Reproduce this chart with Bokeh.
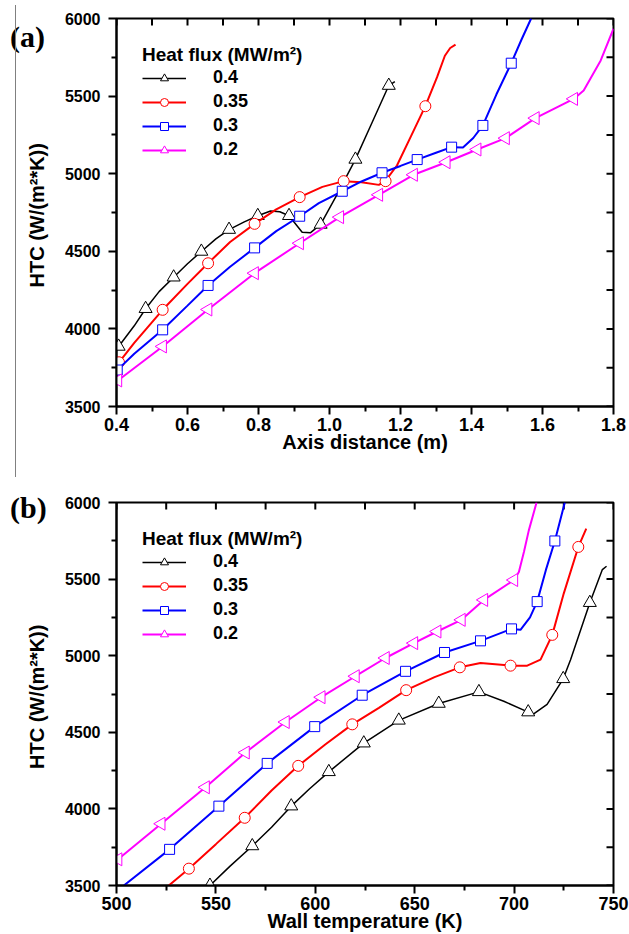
import math
from bokeh.plotting import figure
from bokeh.models import (Range1d, FixedTicker, Legend, LegendItem,
                          NumeralTickFormatter, Div)
from bokeh.layouts import column
from bokeh.embed import file_html
from bokeh.resources import INLINE

series = ["0.4", "0.35", "0.3", "0.2"]
colors = ["#000000", "#ff0000", "#0000ff", "#ff00ff"]
marker_types = ["triangle", "circle", "square", "triangle"]
marker_angles = [0.0, 0.0, 0.0, math.pi / 2]
marker_sizes = [13, 11, 10, 13]
line_widths = [1.5, 2, 2, 2]

y_ticks = [3500, 4000, 4500, 5000, 5500, 6000]
y_minor = [3750, 4250, 4750, 5250, 5750]
legend_title = "Heat flux (MW/m²)"
y_label = "HTC  (W/(m²*K))"

# ---------------- panel (a): HTC vs axis distance ----------------
a_x_ticks = [0.4, 0.6, 0.8, 1.0, 1.2, 1.4, 1.6, 1.8]
a_x_minor = [0.5, 0.7, 0.9, 1.1, 1.3, 1.5, 1.7]
a_x_label = "Axis distance (m)"

a_line_x_04 = [0.40, 0.406, 0.45, 0.482, 0.52, 0.561, 0.60, 0.639, 0.68, 0.717, 0.76, 0.798,
               0.834, 0.86, 0.886, 0.923, 0.946, 0.975, 1.02, 1.073, 1.12, 1.167, 1.184]
a_line_y_04 = [3860, 3887, 4020, 4130, 4240, 4333, 4420, 4499, 4580, 4640, 4690, 4729,
               4760, 4755, 4729, 4623, 4619, 4673, 4860, 5092, 5330, 5568, 5594]
a_mark_x_04 = [0.406, 0.482, 0.561, 0.639, 0.717, 0.798, 0.886, 0.975, 1.073, 1.167]
a_mark_y_04 = [3887, 4130, 4333, 4499, 4640, 4729, 4729, 4673, 5092, 5568]

a_line_x_035 = [0.40, 0.407, 0.45, 0.53, 0.60, 0.658, 0.72, 0.789, 0.85, 0.916, 0.98, 1.040,
                1.09, 1.139, 1.158, 1.19, 1.23, 1.270, 1.303, 1.325, 1.340, 1.355]
a_line_y_035 = [3770, 3785, 3910, 4123, 4290, 4423, 4560, 4677, 4770, 4849, 4915, 4952,
                4945, 4928, 4955, 5053, 5244, 5435, 5622, 5760, 5810, 5832]
a_mark_x_035 = [0.407, 0.530, 0.658, 0.789, 0.916, 1.040, 1.158, 1.270]
a_mark_y_035 = [3785, 4123, 4423, 4677, 4849, 4952, 4952, 5435]

a_line_x_03 = [0.40, 0.45, 0.530, 0.60, 0.658, 0.72, 0.789, 0.85, 0.916, 0.97, 1.036, 1.09,
               1.148, 1.20, 1.247, 1.30, 1.344, 1.376, 1.405, 1.432, 1.47, 1.512, 1.54, 1.568]
a_line_y_03 = [3730, 3840, 3994, 4150, 4280, 4400, 4522, 4630, 4726, 4810, 4887, 4950,
               5006, 5050, 5091, 5135, 5171, 5169, 5230, 5311, 5510, 5712, 5860, 6000]
a_mark_x_03 = [0.402, 0.530, 0.658, 0.789, 0.916, 1.036, 1.148, 1.247, 1.344, 1.432, 1.512]
a_mark_y_03 = [3735, 3994, 4280, 4522, 4726, 4887, 5006, 5091, 5171, 5311, 5712]

a_line_x_02 = [0.404, 0.530, 0.658, 0.789, 0.916, 1.029, 1.139, 1.237, 1.329, 1.416, 1.496,
               1.580, 1.688, 1.716, 1.764, 1.80]
a_line_y_02 = [3668, 3887, 4125, 4359, 4552, 4720, 4864, 4993, 5074, 5156, 5229,
               5358, 5482, 5536, 5730, 5934]
a_mark_x_02 = [0.404, 0.530, 0.658, 0.789, 0.916, 1.029, 1.139, 1.237, 1.329, 1.416, 1.496,
               1.580, 1.688]
a_mark_y_02 = [3668, 3887, 4125, 4359, 4552, 4720, 4864, 4993, 5074, 5156, 5229,
               5358, 5482]

# ---------------- panel (b): HTC vs wall temperature ----------------
b_x_ticks = [500, 550, 600, 650, 700, 750]
b_x_minor = [525, 575, 625, 675, 725]
b_x_label = "Wall temperature (K)"

b_line_x_04 = [547, 557, 568.3, 578, 587.9, 597, 606.8, 624.4, 642.0, 662.1, 682.3, 694.8,
               707.1, 709.5, 716.6, 724.7, 728.4, 738.1, 744.4, 746.5]
b_line_y_04 = [3500, 3625, 3758, 3880, 4018, 4130, 4242, 4429, 4578, 4688, 4764, 4703,
               4632, 4617, 4682, 4849, 4974, 5346, 5562, 5584]
b_mark_x_04 = [547, 568.3, 587.9, 606.8, 624.4, 642.0, 662.1, 682.3, 707.1, 724.7, 738.1]
b_mark_y_04 = [3500, 3758, 4018, 4242, 4429, 4578, 4688, 4764, 4632, 4849, 5346]

b_line_x_035 = [526.3, 536.4, 550, 564.5, 578, 591.4, 605, 618.6, 632, 645.7, 660, 672.7,
                683.1, 698.2, 706.6, 713.3, 719.2, 725, 732.3, 736.3]
b_line_y_035 = [3500, 3610, 3770, 3942, 4120, 4281, 4420, 4552, 4660, 4775, 4860, 4924,
                4953, 4935, 4935, 4974, 5136, 5407, 5710, 5829]
b_mark_x_035 = [536.4, 564.5, 591.4, 618.6, 645.7, 672.7, 698.2, 719.2, 732.3]
b_mark_y_035 = [3610, 3942, 4281, 4552, 4775, 4924, 4935, 5136, 5710]

b_line_x_03 = [503.7, 526.7, 551.5, 575.8, 599.7, 623.6, 645.4, 665.0, 683.1, 698.7, 703.2,
               708, 711.6, 716, 720.5, 725.5]
b_line_y_03 = [3500, 3736, 4018, 4297, 4537, 4742, 4898, 5021, 5097, 5175, 5169,
               5250, 5353, 5560, 5749, 6000]
b_mark_x_03 = [526.7, 551.5, 575.8, 599.7, 623.6, 645.4, 665.0, 683.1, 698.7, 711.6, 720.5]
b_mark_y_03 = [3736, 4018, 4297, 4537, 4742, 4898, 5021, 5097, 5175, 5353, 5749]

b_line_x_02 = [500.8, 522.5, 544.8, 564.9, 585.0, 603.0, 620.2, 635.3, 649.6, 661.3, 673.5,
               684.8, 699.9, 702.4, 705, 707.4, 711.3]
b_line_y_02 = [3671, 3903, 4141, 4368, 4567, 4729, 4866, 4985, 5082, 5158, 5234,
               5364, 5494, 5547, 5680, 5818, 6000]
b_mark_x_02 = [500.8, 522.5, 544.8, 564.9, 585.0, 603.0, 620.2, 635.3, 649.6, 661.3, 673.5,
               684.8, 699.9]
b_mark_y_02 = [3671, 3903, 4141, 4368, 4567, 4729, 4866, 4985, 5082, 5158, 5234,
               5364, 5494]

SANS = "Liberation Sans"
FIG_W = 629
BORDER_L = 116
BORDER_R = 16
TICK_IN_PX = 7


def make_panel(x_start, x_end, x_ticks, x_minor, x_fmt, x_label, lines, marks,
               height, border_top, border_bottom):
    y_start, y_end = y_ticks[0], y_ticks[-1]
    p = figure(width=FIG_W, height=height, output_backend="svg", toolbar_location=None,
               x_range=Range1d(x_start, x_end), y_range=Range1d(y_start, y_end),
               min_border_left=BORDER_L, min_border_right=BORDER_R,
               min_border_top=border_top, min_border_bottom=border_bottom)
    p.grid.grid_line_color = None
    p.outline_line_color = "black"
    p.outline_line_width = 2
    p.background_fill_color = "white"
    p.border_fill_color = "white"

    left = p.yaxis[0]
    left.ticker = FixedTicker(ticks=y_ticks, minor_ticks=y_minor)
    left.axis_label = y_label
    left.axis_label_text_font = SANS
    left.axis_label_text_font_style = "bold"
    left.axis_label_text_font_size = "20px"
    left.axis_label_standoff = 14
    left.major_label_text_font = SANS
    left.major_label_text_font_style = "bold"
    left.major_label_text_font_size = "16px"
    left.major_label_standoff = 8

    bottom = p.xaxis[0]
    bottom.ticker = FixedTicker(ticks=x_ticks, minor_ticks=x_minor)
    bottom.formatter = x_fmt
    bottom.axis_label = x_label
    bottom.axis_label_text_font = SANS
    bottom.axis_label_text_font_style = "bold"
    bottom.axis_label_text_font_size = "20px"
    bottom.axis_label_standoff = -3
    bottom.major_label_text_font = SANS
    bottom.major_label_text_font_style = "bold"
    bottom.major_label_text_font_size = "18px"
    bottom.major_label_standoff = 3

    for ax in (left, bottom):
        ax.axis_line_width = 2
        ax.axis_line_color = "black"
        ax.major_tick_line_width = 2
        ax.major_tick_line_color = "black"
        ax.minor_tick_line_width = 2
        ax.minor_tick_line_color = "black"
        ax.major_tick_in = 0
        ax.major_tick_out = 8
        ax.minor_tick_in = 0
        ax.minor_tick_out = 5
        ax.major_label_text_color = "black"
        ax.axis_label_text_color = "black"

    # inward ticks along the top and right frame edges
    frame_h = height - border_top - border_bottom
    frame_w = FIG_W - BORDER_L - BORDER_R
    dy = TICK_IN_PX * (y_end - y_start) / frame_h
    dx = TICK_IN_PX * (x_end - x_start) / frame_w
    top_ticks = sorted(x_ticks + x_minor)
    right_ticks = sorted(y_ticks + y_minor)
    p.segment(x0=top_ticks, y0=[y_end] * len(top_ticks),
              x1=top_ticks, y1=[y_end - dy] * len(top_ticks),
              line_color="#000000", line_width=2)
    p.segment(x0=[x_end] * len(right_ticks), y0=right_ticks,
              x1=[x_end - dx] * len(right_ticks), y1=right_ticks,
              line_color="#000000", line_width=2)

    items = []
    for i in range(4):
        lx, ly = lines[i]
        mx, my = marks[i]
        lr = p.line(lx, ly, line_color=colors[i], line_width=line_widths[i])
        sr = p.scatter(mx, my, marker=marker_types[i], angle=marker_angles[i],
                       size=marker_sizes[i], line_color=colors[i], line_width=1,
                       fill_color="white")
        items.append(LegendItem(label=series[i], renderers=[lr, sr]))

    leg = Legend(items=items, location="top_left", title=legend_title)
    leg.title_text_font = SANS
    leg.title_text_font_style = "bold"
    leg.title_text_font_size = "19px"
    leg.title_text_color = "black"
    leg.title_standoff = 1
    leg.label_text_font = SANS
    leg.label_text_font_style = "bold"
    leg.label_text_font_size = "18px"
    leg.label_text_color = "black"
    leg.glyph_width = 44
    leg.glyph_height = 20
    leg.label_height = 20
    leg.label_standoff = 27
    leg.spacing = 3
    leg.margin = 26
    leg.padding = 9
    leg.border_line_color = None
    leg.background_fill_alpha = 0
    p.add_layout(leg)
    return p


pa = make_panel(0.4, 1.8, a_x_ticks, a_x_minor,
                NumeralTickFormatter(format="0.0"), a_x_label,
                [(a_line_x_04, a_line_y_04), (a_line_x_035, a_line_y_035),
                 (a_line_x_03, a_line_y_03), (a_line_x_02, a_line_y_02)],
                [(a_mark_x_04, a_mark_y_04), (a_mark_x_035, a_mark_y_035),
                 (a_mark_x_03, a_mark_y_03), (a_mark_x_02, a_mark_y_02)],
                455, 18, 49)
pb = make_panel(500, 750, b_x_ticks, b_x_minor,
                NumeralTickFormatter(format="0"), b_x_label,
                [(b_line_x_04, b_line_y_04), (b_line_x_035, b_line_y_035),
                 (b_line_x_03, b_line_y_03), (b_line_x_02, b_line_y_02)],
                [(b_mark_x_04, b_mark_y_04), (b_mark_x_035, b_mark_y_035),
                 (b_mark_x_03, b_mark_y_03), (b_mark_x_02, b_mark_y_02)],
                479, 47, 49)

tag_style = {"position": "absolute", "left": "5px", "font-family": "Liberation Serif",
             "font-weight": "bold", "font-size": "30px", "color": "black",
             "line-height": "30px", "z-index": "5"}
tag_a = Div(text="(a)", styles=dict(tag_style, top="17px"))
tag_b = Div(text="(b)", styles=dict(tag_style, top="488px"))
rule = Div(text="", width=1, height=472,
           styles={"position": "absolute", "left": "10px", "top": "0px",
                   "background-color": "#808080", "z-index": "5"})

layout = column(pa, pb, tag_a, tag_b, rule)
open("out.html", "w").write(file_html(layout, INLINE))
